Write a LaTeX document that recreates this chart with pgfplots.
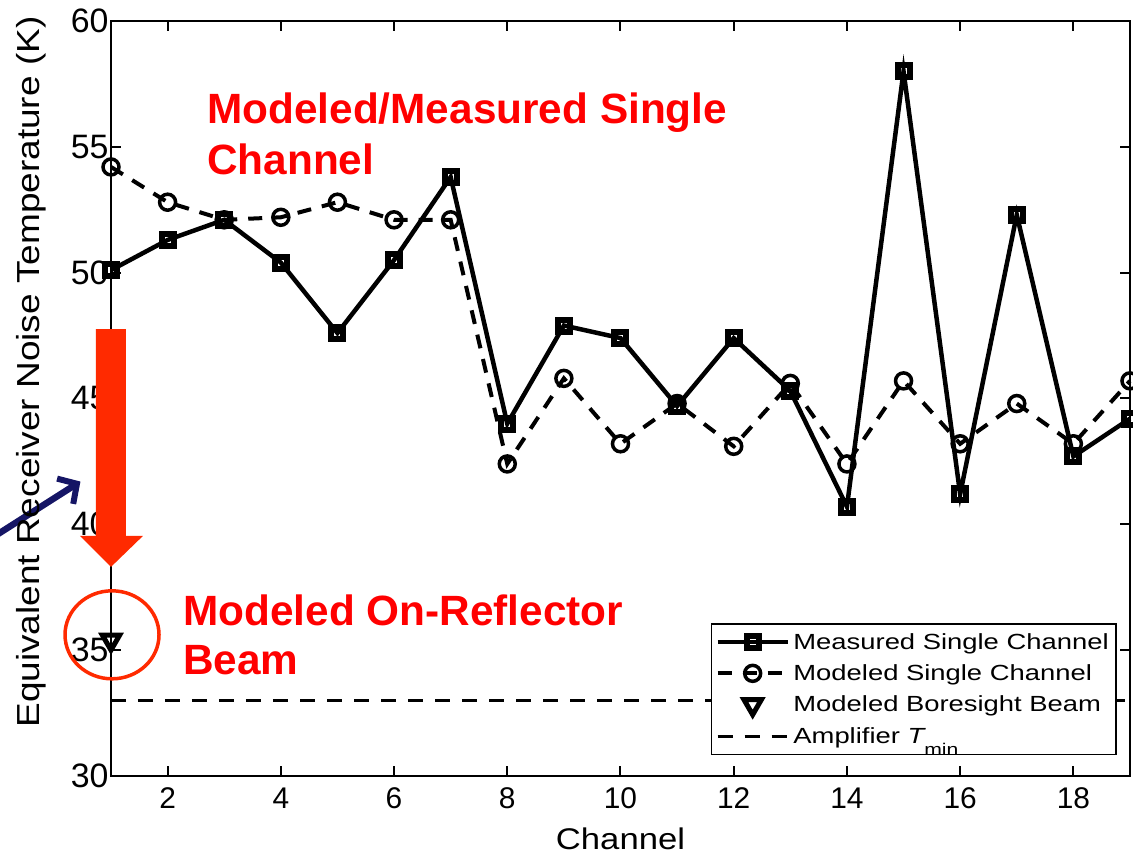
\documentclass[border=0pt]{standalone}
\usepackage{pgfplots}
\pgfplotsset{compat=1.18}
\usetikzlibrary{arrows.meta}
\usepackage{fontspec}
\setmainfont{Liberation Sans}
\newfontfamily\legfont{Liberation Sans}[FakeStretch=1.25]
\newfontfamily\labfont{Liberation Sans}[FakeStretch=1.16]
\definecolor{annored}{HTML}{FF0000}
\definecolor{arrowred}{HTML}{FF2A00}
\definecolor{navyarrow}{HTML}{151565}

\begin{document}
\begin{tikzpicture}
\begin{axis}[
  at={(0,0)}, anchor=south west,
  scale only axis, width=1019bp, height=755bp,
  xmin=1, xmax=19, ymin=30, ymax=60,
  xtick={2,4,...,18}, ytick={30,35,...,60},
  tick pos=both, tick align=inside,
  major tick length=10bp,
  axis line style={line width=2bp},
  every tick/.style={black, line width=2bp},
  /pgf/number format/assume math mode=true,
  xticklabel style={font=\fontsize{30}{30}\selectfont, yshift=-8bp},
  yticklabel style={font=\fontsize{34}{34}\selectfont, xshift=1bp},
  xlabel={Channel},
  xlabel style={at={(axis description cs:0.5,0)}, anchor=base, yshift=-73bp,
    font=\labfont\fontsize{30}{30}\selectfont},
  ylabel={Equivalent Receiver Noise Temperature (K)},
  ylabel style={at={(axis description cs:-0.0785,0.535)}, anchor=center, rotate=0,
    font=\labfont\fontsize{32}{32}\selectfont},
  clip=false,
  legend image code/.code={
    \draw[mark repeat=2, mark phase=2, #1] plot coordinates {(0bp,0bp) (35bp,0bp) (70bp,0bp)};
  },
  legend style={at={(0.9872,0.2026)}, anchor=north east, draw=black, line width=1.5bp,
    fill=white, inner xsep=4bp, inner ysep=6bp, row sep=7bp,
    font=\legfont\fontsize{22}{26}\selectfont,
    nodes={inner sep=3.5bp}},
  legend cell align=left,
]
\addplot[black, line width=4.5bp, mark=square, mark size=6bp,
  mark options={solid, line width=6bp}] coordinates {
  (1,50.1) (2,51.3) (3,52.1) (4,50.4) (5,47.6) (6,50.5) (7,53.8) (8,44.0)
  (9,47.9) (10,47.4) (11,44.7) (12,47.4) (13,45.3) (14,40.7) (15,58.0)
  (16,41.2) (17,52.3) (18,42.7) (19,44.2)
};
\addlegendentry{Measured Single Channel}
\addplot[black, line width=4bp, dash pattern=on 14bp off 11bp, mark=o, mark size=8bp,
  mark options={solid, line width=3.5bp}] coordinates {
  (1,54.2) (2,52.8) (3,52.1) (4,52.2) (5,52.8) (6,52.1) (7,52.1) (8,42.4)
  (9,45.8) (10,43.2) (11,44.8) (12,43.1) (13,45.6) (14,42.4) (15,45.7)
  (16,43.2) (17,44.8) (18,43.2) (19,45.7)
};
\addlegendentry{Modeled Single Channel}
\addplot[black, only marks, mark=triangle, mark size=10bp,
  mark options={solid, rotate=180, line width=5bp}] coordinates {(1,35.4)};
\addlegendentry{Modeled Boresight Beam}
\addplot[black, line width=3bp, dash pattern=on 15bp off 12bp] coordinates {(1,33) (19,33)};
\addlegendentry{Amplifier {\itshape T}\raisebox{-0.55em}{\fontsize{17}{17}\selectfont min}}

% annotations
\fill[arrowred] (axis cs:0.735,47.76) -- (axis cs:1.265,47.76) -- (axis cs:1.265,39.54)
  -- (axis cs:1.565,39.54) -- (axis cs:1,38.31) -- (axis cs:0.452,39.54)
  -- (axis cs:0.735,39.54) -- cycle;
\draw[arrowred, line width=3.5bp] (axis cs:1.018,35.61) ellipse [x radius=47bp, y radius=44bp];
\draw[navyarrow, line width=6.5bp, -{Straight Barb[length=14bp, width=30bp, line width=6bp]}]
  (axis cs:-1.314,39.16) -- (axis cs:0.46,41.70);
\node[annored, font=\bfseries\fontsize{42.5}{42.5}\selectfont, anchor=base west, inner sep=0]
  at (axis cs:2.696,55.91) {Modeled/Measured Single};
\node[annored, font=\bfseries\fontsize{42.5}{42.5}\selectfont, anchor=base west, inner sep=0]
  at (axis cs:2.696,53.92) {Channel};
\node[annored, font=\bfseries\fontsize{42.5}{42.5}\selectfont, anchor=base west, inner sep=0]
  at (axis cs:2.272,36.0) {Modeled On-Reflector};
\node[annored, font=\bfseries\fontsize{42.5}{42.5}\selectfont, anchor=base west, inner sep=0]
  at (axis cs:2.272,34.02) {Beam};
\end{axis}
\pgfresetboundingbox
\useasboundingbox (-111bp,-78bp) rectangle (1022bp,776bp);
\end{tikzpicture}
\end{document}
